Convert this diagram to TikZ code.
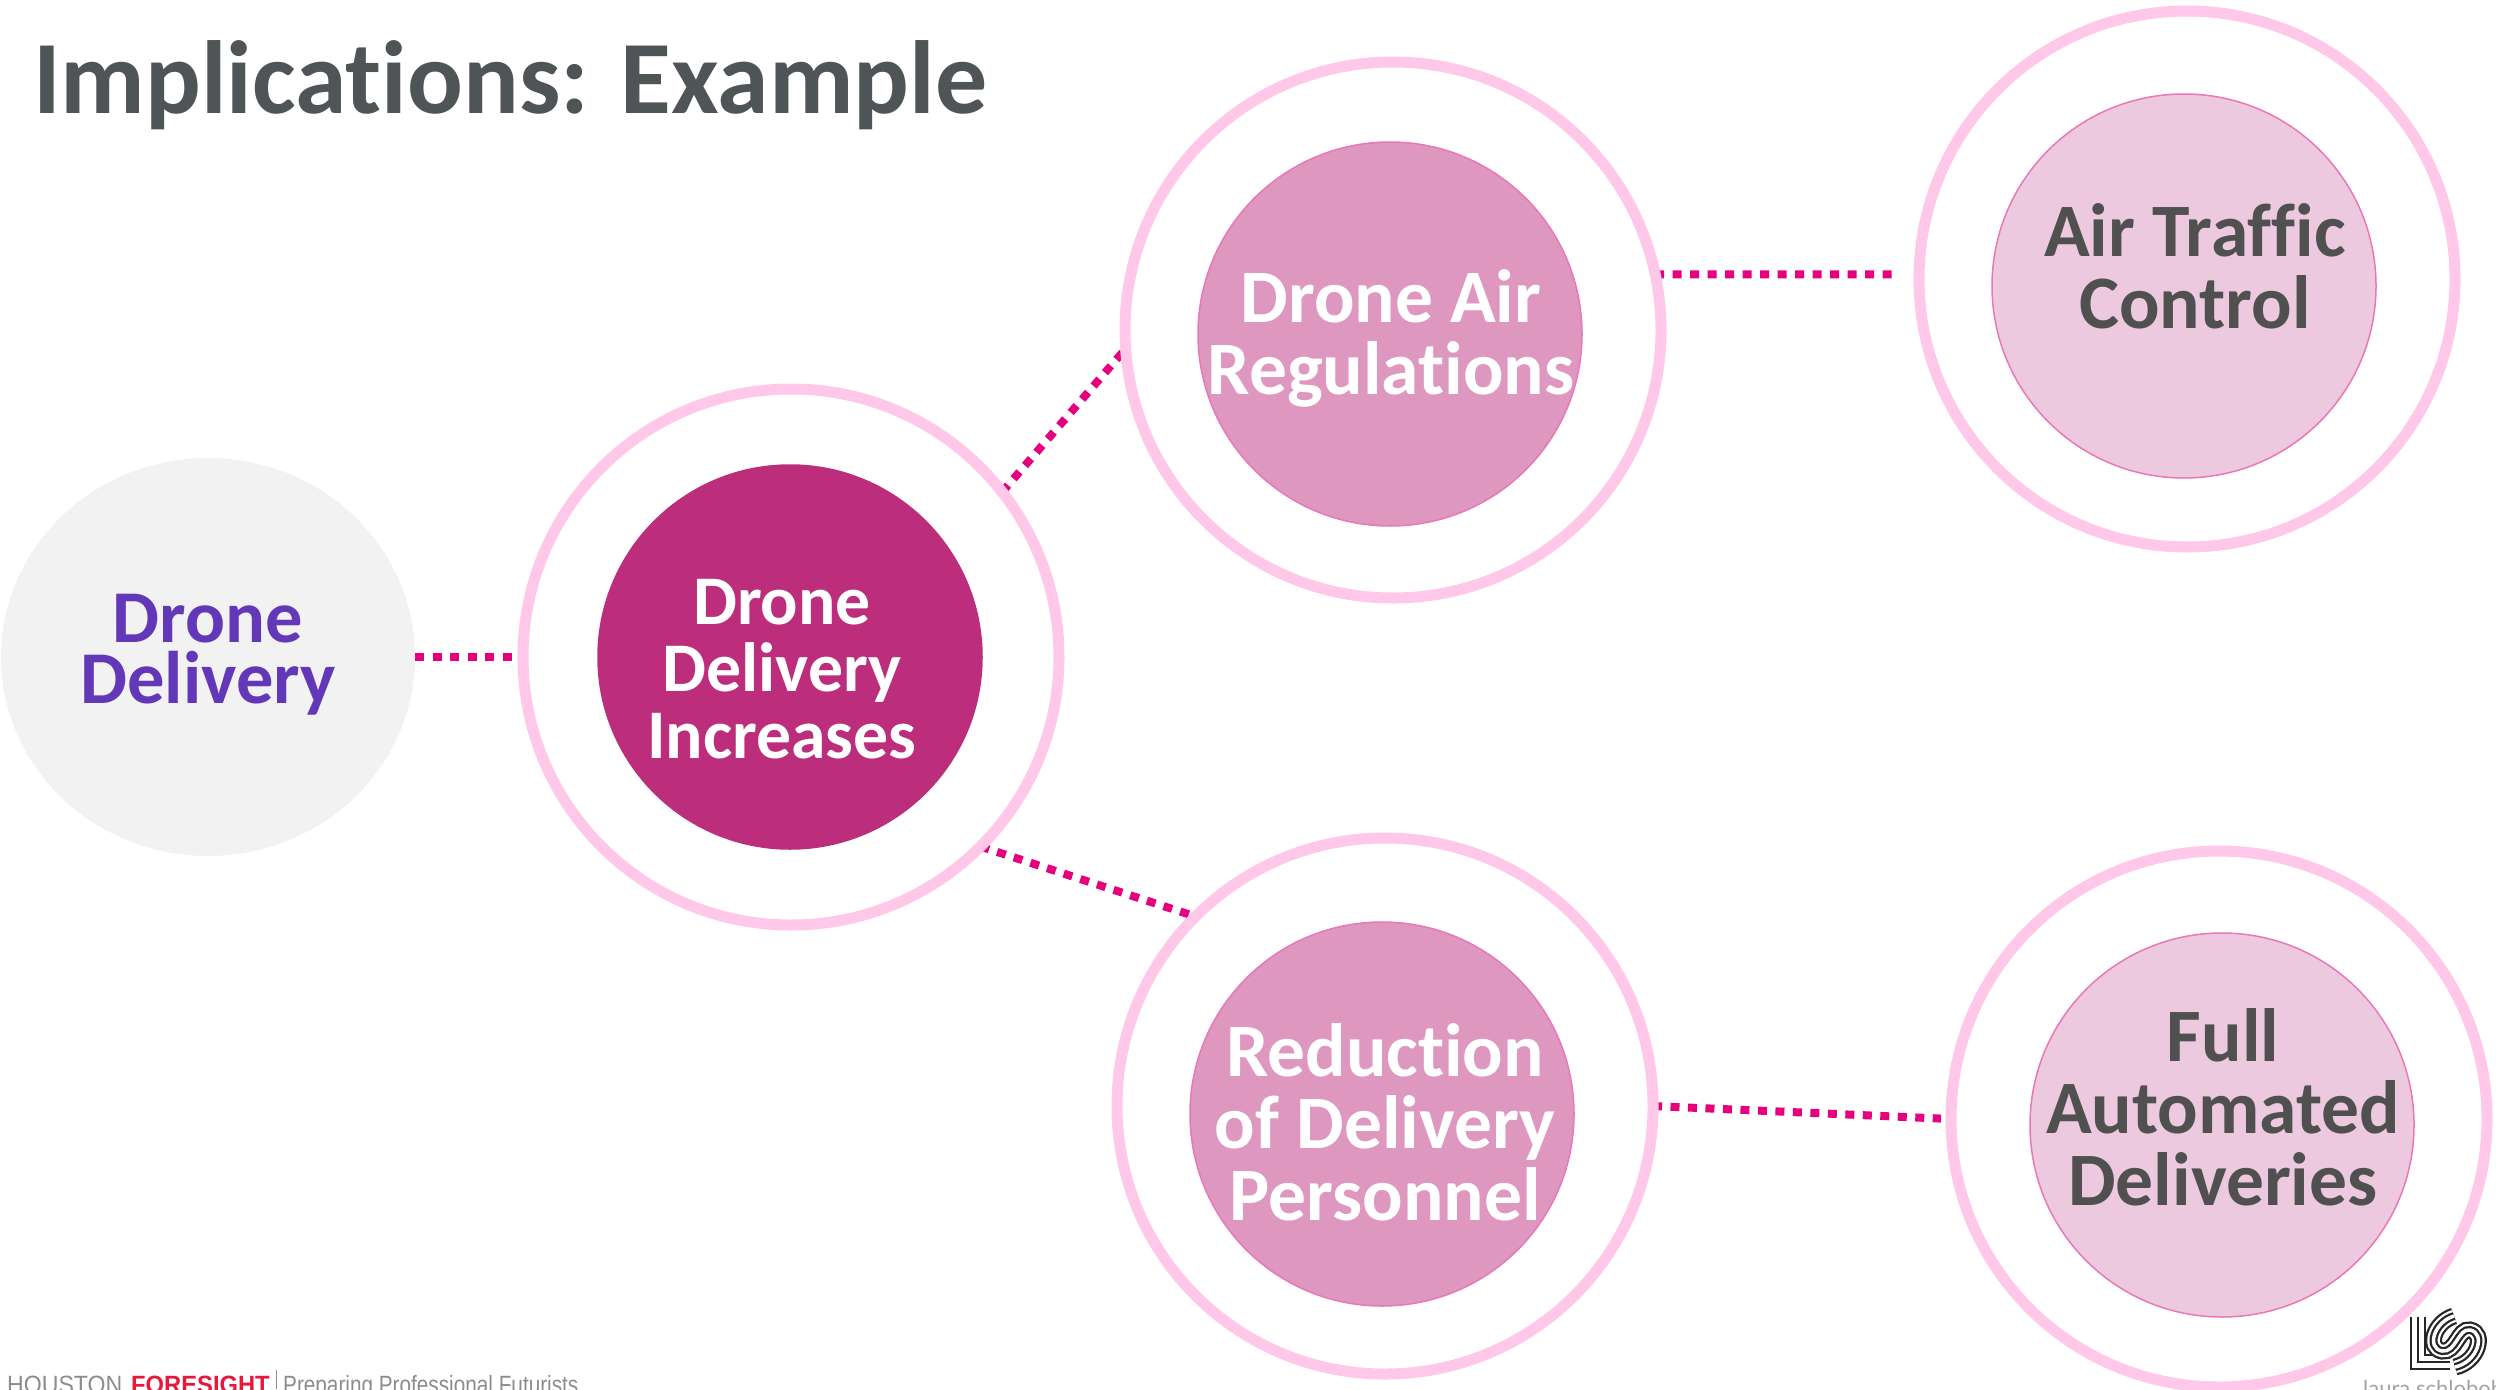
\documentclass[tikz,border=0pt]{standalone}
\usepackage{fontspec}
\setmainfont[Ligatures=CommonOff]{Carlito}
\newfontfamily\footfont{Liberation Sans}
\newfontfamily\logofont{Lato}
\usetikzlibrary{shapes.geometric}
\pgfdeclarelayer{bg}
\pgfsetlayers{bg,main}
\definecolor{ringc}{HTML}{FFC8E8}
\definecolor{linkc}{HTML}{E6007E}
\definecolor{deepc}{HTML}{BC2E7C}
\definecolor{midc}{HTML}{DE97BF}
\definecolor{paleC}{HTML}{ECC9DF}
\definecolor{edgec}{HTML}{E878B8}
\definecolor{darktxt}{HTML}{505050}
\definecolor{titlec}{HTML}{4F5456}
\definecolor{purp}{HTML}{6338B8}
\definecolor{grayf}{HTML}{F2F2F2}
\definecolor{footg}{HTML}{8A8C8E}
\definecolor{footr}{HTML}{E8173C}
\newcommand\lblfont[2]{\fontsize{#1}{#2}\selectfont\bfseries\lineskiplimit-200pt\relax}
\tikzset{
  ringn/.style={circle,draw=ringc,line width=11pt,minimum size=536pt,inner sep=0pt,outer sep=0pt},
  corep/.style={circle,fill=#1,draw=edgec,line width=1.5pt,minimum size=384pt,inner sep=0pt,outer sep=0pt},
  lbl/.style={align=center,inner sep=0pt},
  linkn/.style={draw=linkc,line width=8pt,dash pattern=on 9pt off 8.5pt},
}
\begin{document}
\begin{tikzpicture}[x=1pt,y=-1pt]
\useasboundingbox[clip] (0,0) rectangle (2496,1389);
\node[ellipse,fill=grayf,minimum width=414pt,minimum height=398pt,inner sep=0pt,outer sep=0pt] (src) at (208,657) {};
\node[ringn] (o1) at (791,657) {};
\node[ringn] (o2) at (1393,330) {};
\node[ringn] (o3) at (2187,279) {};
\node[ringn] (o4) at (1385,1106) {};
\node[ringn] (o5) at (2219,1119) {};
\node[corep=deepc,draw=deepc] (c1) at (790,657) {};
\node[corep=midc] (c2) at (1390,334) {};
\node[corep=paleC] (c3) at (2184,286) {};
\node[corep=midc] (c4) at (1382,1114) {};
\node[corep=paleC] (c5) at (2222,1125) {};
\begin{pgfonlayer}{bg}
\draw[linkn] (src.east) -- (o1.west);
\draw[linkn] (o1.38.5) -- (o2.184);
\draw[linkn,shorten >=23pt] (o2.12) -- (o3.179);
\draw[linkn] (o1.-45) -- (o4.135);
\draw[linkn,shorten >=10pt] (o4.0) -- (o5.180);
\end{pgfonlayer}
\node[lbl,font=\lblfont{104}{104},text=titlec,anchor=base west] (title) at (33,113) {Implications: Example};
\node[lbl,font=\lblfont{74.5}{61},text=purp] (t0) at (208,655) {Drone\\Delivery};
\node[lbl,font=\lblfont{69.7}{67},text=white] (t1) at (782,669) {Drone\\Delivery\\Increases};
\node[lbl,font=\lblfont{75.5}{72},text=white] (t2) at (1391,338) {Drone Air\\Regulations};
\node[lbl,font=\lblfont{75.5}{72},text=darktxt] (t3) at (2195,266) {Air Traffic\\Control};
\node[lbl,font=\lblfont{75.5}{72},text=white] (t4) at (1385,1122) {Reduction\\of Delivery\\Personnel};
\node[lbl,font=\lblfont{75.5}{72},text=darktxt] (t5) at (2223,1107) {Full\\Automated\\Deliveries};
% footer
\node[anchor=base west,inner sep=0pt,text=footg,font=\footfont\fontsize{25}{25}\selectfont,xscale=.925] (f1) at (7,1393) {HOUSTON};
\node[anchor=base west,inner sep=0pt,text=footr,font=\footfont\bfseries\fontsize{25}{25}\selectfont,xscale=.95] (f2) at (131,1393) {FORESIGHT};
\node[anchor=base west,inner sep=0pt,text=footg,font=\footfont\fontsize{25}{25}\selectfont,xscale=.83] (f3) at (283,1393) {Preparing Professional Futurists};
\draw[footg,line width=1pt] (276,1370) -- (276,1389);
% logo
\draw[black!85,line width=2.4pt] (2411,1317) -- (2411,1369) -- (2450,1369);
\draw[black!85,line width=2.4pt] (2418,1317) -- (2418,1362) -- (2450,1362);
\draw[black!85,line width=2.4pt] (2425,1317) -- (2425,1355) -- (2450,1355);
\foreach \w/\c in {17/black!85,12.5/white,8/black!85,3.5/white}{
  \draw[\c,line width=\w pt] (2454,1316) .. controls (2434,1322) and (2426,1348) .. (2442,1351)
     .. controls (2456,1353) and (2458,1328) .. (2470,1330)
     .. controls (2486,1333) and (2478,1362) .. (2455,1367);
}
\node[anchor=base west,inner sep=0pt,text=footg!80,font=\logofont\fontsize{22}{22}\selectfont] (lg) at (2363,1396) {laura schlobohm};
\end{tikzpicture}
\end{document}
